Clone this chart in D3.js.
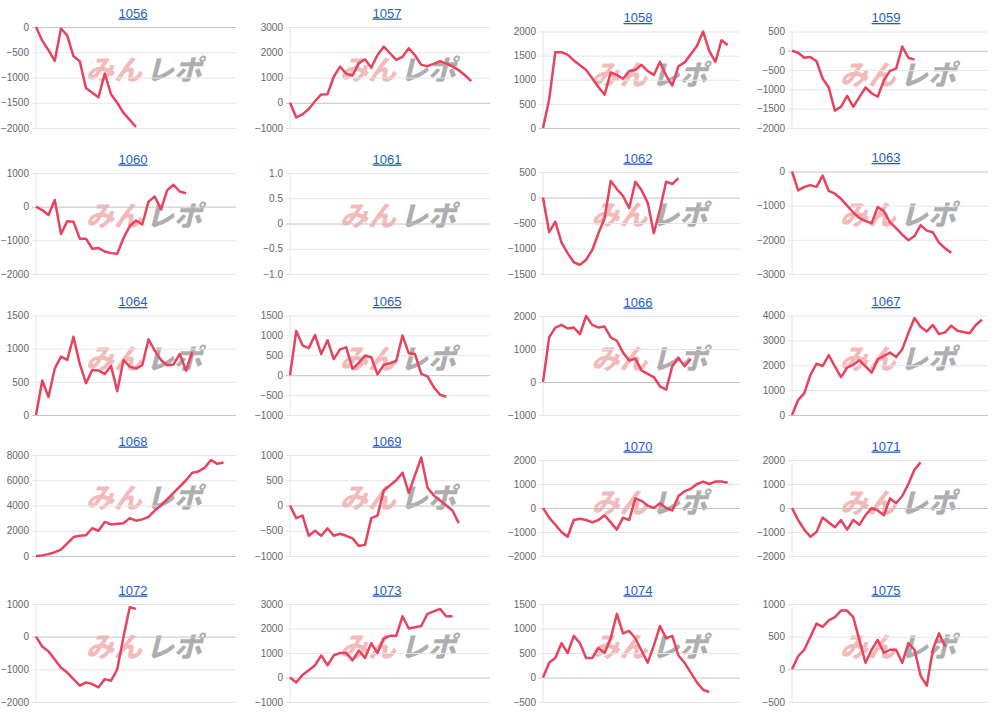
<!DOCTYPE html>
<html>
<head>
<meta charset="utf-8">
<script src="https://cdn.jsdelivr.net/npm/d3@7"></script>
<style>
  body { margin: 0; background: #fff; }
  svg { display: block; }
</style>
</head>
<body>
<div id="wrapper"></div>
<script>

// machine numbers, in grid order
const machines = ["1056", "1057", "1058", "1059", "1060", "1061", "1062", "1063", "1064", "1065",
    "1066", "1067", "1068", "1069", "1070", "1071", "1072", "1073", "1074", "1075"]

// y tick labels for every chart
const yTicks = [
    [-2000, -1500, -1000, -500, 0],
    [-1000, 0, 1000, 2000, 3000],
    [0, 500, 1000, 1500, 2000],
    [-2000, -1500, -1000, -500, 0, 500],
    [-2000, -1000, 0, 1000],
    [-1, -0.5, 0, 0.5, 1],
    [-1500, -1000, -500, 0, 500],
    [-3000, -2000, -1000, 0],
    [0, 500, 1000, 1500],
    [-1000, -500, 0, 500, 1000, 1500],
    [-1000, 0, 1000, 2000],
    [0, 1000, 2000, 3000, 4000],
    [0, 2000, 4000, 6000, 8000],
    [-1000, -500, 0, 500, 1000],
    [-2000, -1000, 0, 1000, 2000],
    [-2000, -1000, 0, 1000, 2000],
    [-2000, -1000, 0, 1000],
    [-1000, 0, 1000, 2000, 3000],
    [-500, 0, 500, 1000, 1500],
    [-500, 0, 500, 1000],
]

// number of x slots shared by all charts
const xSlots = 33

const m1056 = [0, -270, -460, -670, -30, -170, -580, -680, -1210, -1300, -1390, -920, -1330, -1500, -1700, -1840, -1980]
const m1057 = [0, -580, -460, -250, 60, 330, 340, 1030, 1430, 1150, 1080, 1560, 1720, 1390, 1890, 2220, 1960, 1700, 1820, 2160,
    1880, 1500, 1450, 1540, 1650, 1550, 1440, 1290, 1090, 855]
const m1058 = [0, 590, 1570, 1570, 1520, 1400, 1300, 1200, 1030, 850, 690, 1150, 1100, 1020, 1180, 1200, 1310, 1180, 1100, 1370,
    1090, 880, 1280, 1360, 1530, 1700, 2000, 1600, 1370, 1820, 1720]
const m1059 = [0, -50, -180, -160, -270, -720, -950, -1550, -1450, -1170, -1450, -1200, -950, -1100, -1190, -760, -520, -460, 110, -180, -230]
const m1060 = [0, -100, -250, 200, -810, -430, -450, -950, -950, -1250, -1230, -1330, -1380, -1400, -930, -580, -410, -530, 150, 300,
    -80, 490, 650, 450, 400]
const m1061 = []
const m1062 = [0, -680, -475, -880, -1090, -1270, -1320, -1220, -1030, -700, -410, 325, 165, 30, -210, 310, 145, -100, -700, -230,
    310, 265, 380]
const m1063 = [0, -550, -450, -400, -450, -120, -570, -650, -800, -1000, -1200, -1360, -1450, -1510, -1040, -1160, -1490, -1660, -1850, -2010,
    -1890, -1570, -1730, -1780, -2080, -2250, -2380]
const m1064 = [0, 520, 270, 700, 880, 830, 1180, 770, 480, 680, 670, 620, 740, 360, 830, 730, 700, 750, 1140, 970,
    830, 750, 760, 920, 670, 950]
const m1065 = [0, 1110, 750, 680, 1010, 530, 880, 405, 650, 700, 160, 310, 490, 450, 20, 260, 300, 360, 1000, 550,
    530, 35, -30, -300, -490, -540]
const m1066 = [0, 1350, 1650, 1730, 1620, 1650, 1450, 2000, 1730, 1650, 1680, 1350, 1250, 890, 650, 710, 350, 245, 150, -130,
    -230, 480, 730, 480, 690]
const m1067 = [0, 600, 880, 1600, 2060, 1970, 2410, 1950, 1520, 1900, 2020, 2200, 1950, 1700, 2240, 2380, 2510, 2330, 2640, 3300,
    3900, 3550, 3360, 3620, 3250, 3320, 3590, 3390, 3340, 3290, 3620, 3830]
const m1068 = [0, 50, 150, 300, 500, 1000, 1500, 1600, 1650, 2200, 2000, 2700, 2500, 2550, 2600, 3000, 2800, 2900, 3100, 3600,
    4000, 4500, 5000, 5500, 6000, 6600, 6700, 7000, 7600, 7300, 7400]
const m1069 = [0, -250, -200, -600, -500, -600, -450, -600, -560, -600, -650, -800, -780, -250, -200, 300, 400, 500, 650, 250,
    600, 950, 350, 200, 100, 0, -100, -350]
const m1070 = [0, -400, -700, -1000, -1200, -500, -450, -500, -600, -500, -300, -600, -900, -400, -500, 400, 300, 100, 0, 200,
    0, -100, 500, 700, 800, 1000, 1100, 1000, 1100, 1100, 1050]
const m1071 = [0, -500, -900, -1200, -1000, -400, -600, -800, -500, -900, -500, -700, -300, 0, -100, -300, 400, 200, 500, 1000,
    1600, 1900]
const m1072 = [0, -300, -450, -700, -950, -1100, -1300, -1500, -1400, -1450, -1550, -1300, -1350, -1000, 0, 900, 850]
const m1073 = [0, -200, 100, 300, 500, 900, 500, 900, 1000, 1000, 700, 1100, 800, 1400, 1000, 1600, 1700, 1700, 2500, 2000,
    2050, 2100, 2600, 2700, 2800, 2500, 2500]
const m1074 = [0, 300, 400, 700, 500, 850, 700, 400, 400, 600, 500, 800, 1300, 900, 950, 800, 550, 300, 650, 1050,
    800, 850, 450, 300, 100, -100, -250, -300]
const m1075 = [0, 200, 300, 500, 700, 650, 750, 800, 900, 900, 800, 450, 100, 300, 450, 250, 300, 300, 100, 400,
    300, -100, -250, 300, 550, 350]

const seriesList = [m1056, m1057, m1058, m1059, m1060, m1061, m1062, m1063, m1064, m1065,
    m1066, m1067, m1068, m1069, m1070, m1071, m1072, m1073, m1074, m1075]


function drawCharts() {

    // layout of the 4 x 5 grid
    const dimensions = {
        width: 1000,
        height: 712,
        colLeft: [36, 290, 543, 792],
        colRight: [236, 490, 740, 988],
        titleX: [133, 387, 638, 886],
        plotTop: [[27, 27, 31.5, 31.5], [173, 173, 172, 171.5], [315.5, 315.5, 316, 315.5], [455, 455, 460, 460], [604, 604, 604, 604]],
        plotBottom: [128, 274, 415, 556, 702],
    }

    const lineColor = "#e8435e"

    const svg = d3.select("#wrapper")
        .append("svg")
        .attr("width", dimensions.width)
        .attr("height", dimensions.height)
        .style("font-family", "'Liberation Sans', Arial, Helvetica, sans-serif")

    machines.forEach((name, i) => {
        const col = i % 4
        const row = Math.floor(i / 4)
        const left = dimensions.colLeft[col]
        const right = dimensions.colRight[col]
        const top = dimensions.plotTop[row][col]
        const bottom = dimensions.plotBottom[row]
        const ticks = yTicks[i]
        const data = seriesList[i]

        const g = svg.append("g")

        const xScale = d3.scaleLinear()
            .domain([0, xSlots - 1])
            .range([left, right])

        const yScale = d3.scaleLinear()
            .domain(d3.extent(ticks))
            .range([bottom, top])

        // watermark logo
        const cx = (left + right) / 2 + 8
        const cy = top + 53
        const logo = g.append("g")
            .attr("transform", `translate(${cx},${cy}) skewX(-14)`)
            .style("font-family", "'Noto Sans CJK JP', sans-serif")
            .style("font-weight", 900)
            .style("font-size", "28px")
        logo.append("text")
            .attr("x", -2)
            .attr("text-anchor", "end")
            .attr("fill", "rgba(226, 70, 70, 0.38)")
            .text("みん")
        logo.append("text")
            .attr("x", 2)
            .attr("text-anchor", "start")
            .attr("fill", "rgba(120, 120, 120, 0.6)")
            .text("レポ")

        // grid
        const yAxisGenerator = d3.axisLeft(yScale)
            .tickValues(ticks)
            .tickSize(-(right - left) - 4)
            .tickPadding(3)
            .tickFormat(d => ticks.some(t => t % 1 !== 0) && d !== 0 ? d3.format(".1f")(d) : d3.format("d")(d))

        const yAxis = g.append("g")
            .attr("transform", `translate(${left - 4},0)`)
            .call(yAxisGenerator)
        yAxis.select(".domain").remove()
        yAxis.selectAll(".tick line")
            .attr("stroke", d => d === 0 ? "#c4c4c4" : "#e6e6e6")
        yAxis.selectAll(".tick text")
            .attr("fill", "#666")
            .style("font-size", "10px")

        g.append("line")
            .attr("x1", left).attr("x2", left)
            .attr("y1", top).attr("y2", bottom)
            .attr("stroke", "#e6e6e6")

        // title
        g.append("text")
            .attr("x", dimensions.titleX[col])
            .attr("y", top - 9.5)
            .attr("text-anchor", "middle")
            .attr("fill", "#1f5fbf")
            .style("font-size", "13px")
            .style("text-decoration", "underline")
            .text(name)

        if (data.length) {
            const lineGenerator = d3.line()
                .x((d, j) => xScale(j))
                .y(d => yScale(d))

            g.append("path")
                .datum(data)
                .attr("d", lineGenerator)
                .attr("fill", "none")
                .attr("stroke", lineColor)
                .attr("stroke-width", 2.5)
                .attr("stroke-linejoin", "round")
        }
    })
}

drawCharts()
</script>
</body>
</html>
